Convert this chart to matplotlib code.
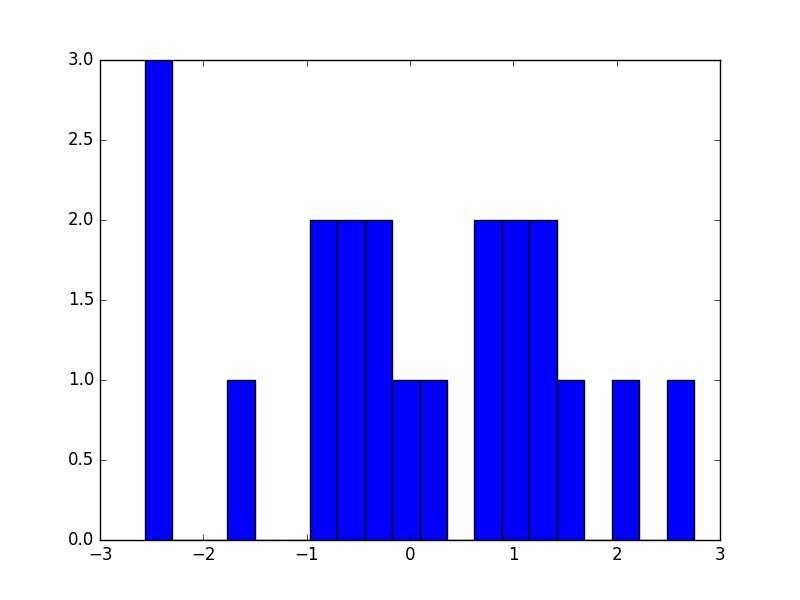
import numpy as np
import matplotlib
matplotlib.use('Agg')
import matplotlib.pyplot as plt

plt.style.use('classic')

bin_lo = -2.565
bin_hi = 2.749
n_bins = 20
counts = [3, 0, 0, 1, 0, 0, 2, 2, 2, 1, 1, 0, 2, 2, 2, 1, 0, 1, 0, 1]

edges = np.linspace(bin_lo, bin_hi, n_bins + 1)
centers = (edges[:-1] + edges[1:]) / 2

fig = plt.figure(figsize=(8, 6), dpi=100)
ax = fig.add_subplot(111)
ax.hist(centers, bins=edges, weights=counts)
ax.set_xlim(-3, 3)
ax.set_ylim(0, 3)
fig.savefig('out.png', dpi=100)
